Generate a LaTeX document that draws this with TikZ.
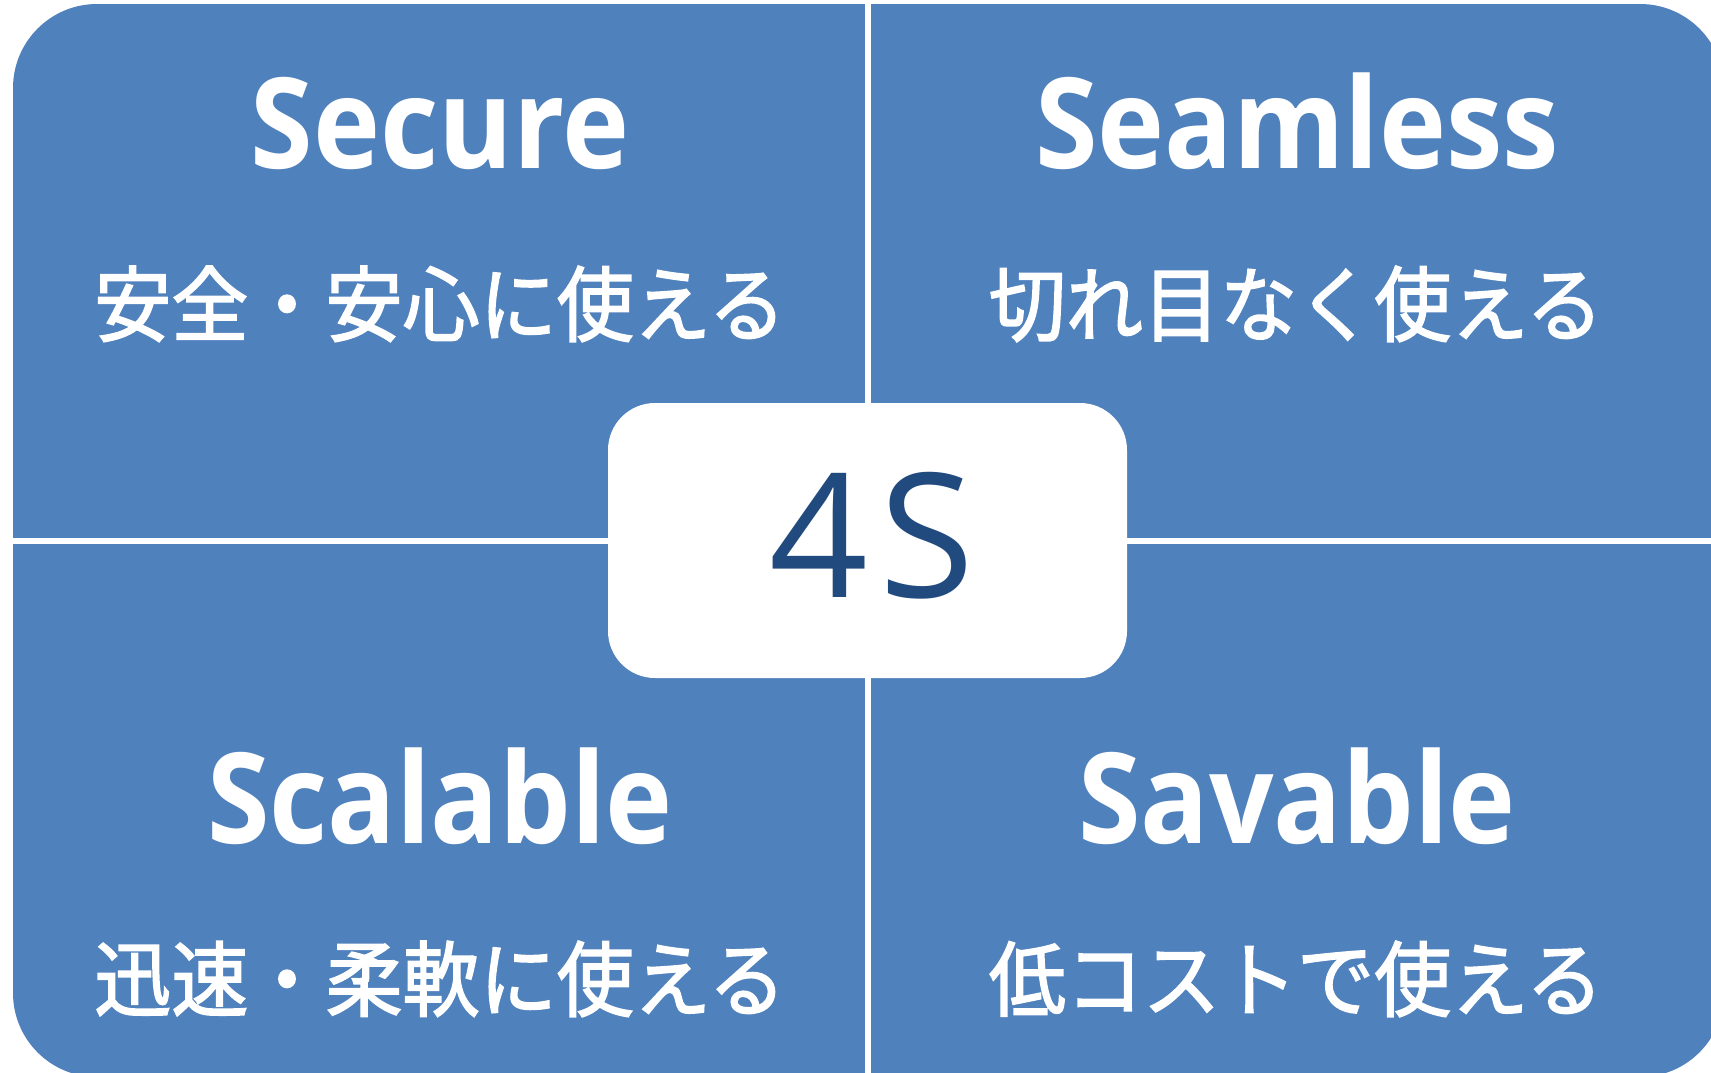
\documentclass[tikz,border=0pt]{standalone}
\usepackage{fontspec}
\setmainfont{Open Sans}
\newfontfamily\jpfont{Noto Sans CJK JP}[FakeBold=2]
\definecolor{qblue}{RGB}{79,129,189}
\definecolor{qdark}{RGB}{33,74,126}
\begin{document}
\begin{tikzpicture}[x=1pt,y=-1pt,
  entitle/.style={text=white,font=\fontsize{126}{130}\selectfont\bfseries,anchor=base,inner sep=0pt},
  jptext/.style={text=white,font=\jpfont\fontsize{82}{90}\selectfont,anchor=base,inner sep=0pt},
  corebox/.style={fill=white,rounded corners=47pt,minimum width=519pt,minimum height=275pt,inner sep=0pt},
  coretext/.style={text=qdark,font=\fontsize{173}{176}\selectfont,anchor=base,inner sep=0pt}
]
\useasboundingbox (0,0) rectangle (1711,1072);
\clip (0,0) rectangle (1711,1072);
\fill[white] (0,0) rectangle (1711,1072);
\fill[qblue, rounded corners=84pt] (13,4) rectangle (1724,1077);
\fill[white] (865,-5) rectangle (871,1080);
\fill[white] (-5,538) rectangle (1720,544);
\node[corebox] (core) at (867.5,540.5) {};
\node[coretext] (fours) at (872,597) {4\kern 12pt S};
\node[entitle] (secure) at (440,168) {\scalebox{0.9}[1]{Secure}};
\node[entitle] (seamless) at (1297,168) {\scalebox{0.9}[1]{Seamless}};
\node[entitle] (scalable) at (440,843) {\scalebox{0.9}[1]{Scalable}};
\node[entitle] (savable) at (1297,843) {\scalebox{0.9}[1]{Savable}};
\node[jptext] (secj) at (440,335) {\scalebox{0.94}[1]{安全・安心に使える}};
\node[jptext] (seaj) at (1296,335) {\scalebox{0.94}[1]{切れ目なく使える}};
\node[jptext] (scaj) at (440,1010) {\scalebox{0.94}[1]{迅速・柔軟に使える}};
\node[jptext] (savj) at (1296,1010) {\scalebox{0.94}[1]{低コストで使える}};
\end{tikzpicture}
\end{document}
